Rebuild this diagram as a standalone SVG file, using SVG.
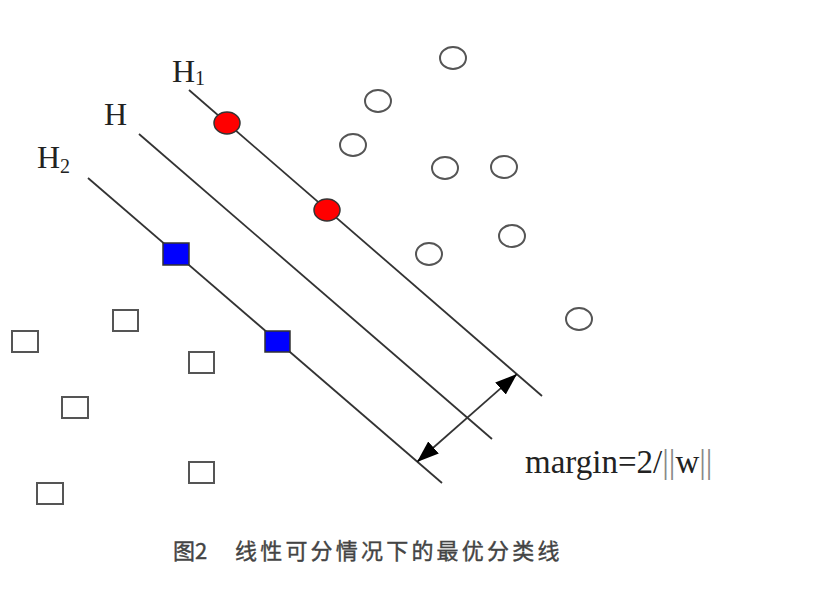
<svg xmlns="http://www.w3.org/2000/svg" width="823" height="612" viewBox="0 0 823 612">
<style>
.ln{stroke:#333;stroke-width:1.8;fill:none}
.oc{fill:#fff;stroke:#555;stroke-width:2}
.rc{fill:#f00;stroke:#333;stroke-width:1.5}
.os{fill:#fff;stroke:#555;stroke-width:2}
.bs{fill:#00f;stroke:#333;stroke-width:1.5}
.lbl{font-family:"Liberation Serif","Times New Roman",serif;fill:#222}
.cap{font-family:"Noto Sans CJK SC","Liberation Sans",sans-serif;fill:#444;font-size:22px;stroke:#444;stroke-width:0.4}
</style>
<defs>
<marker id="ah" viewBox="0 0 22 16" refX="22" refY="8" markerWidth="22" markerHeight="16" markerUnits="userSpaceOnUse" orient="auto-start-reverse">
<path d="M0,0 L22,8 L0,16 z" fill="#000"/>
</marker>
</defs>
<rect width="823" height="612" fill="#fff"/>
<g id="connectors">
<line id="H1line" class="ln" x1="189" y1="90" x2="542" y2="396"/>
<line id="Hline" class="ln" x1="139" y1="134" x2="492" y2="439"/>
<line id="H2line" class="ln" x1="88" y1="178" x2="442" y2="483"/>
<line id="margin-arrow" class="ln" x1="417" y1="462" x2="517" y2="374" marker-start="url(#ah)" marker-end="url(#ah)"/>
</g>
<g id="labels">
<text class="lbl" x="172" y="82" font-size="32">H<tspan font-size="20" dy="3">1</tspan></text>
<text class="lbl" x="104" y="125" font-size="32">H</text>
<text class="lbl" x="37" y="168" font-size="32">H<tspan font-size="20" dy="5">2</tspan></text>
<text class="lbl" x="525" y="473" font-size="33">margin=2/<tspan fill="#888">||</tspan>w<tspan fill="#888">||</tspan></text>
</g>
<g id="circles">
<g id="c1"><ellipse class="oc" cx="453" cy="58" rx="13" ry="11"/></g>
<g id="c2"><ellipse class="oc" cx="378" cy="101" rx="13" ry="11"/></g>
<g id="c3"><ellipse class="oc" cx="353" cy="145" rx="13" ry="11"/></g>
<g id="c4"><ellipse class="oc" cx="445" cy="168" rx="13" ry="11"/></g>
<g id="c5"><ellipse class="oc" cx="504" cy="167" rx="13" ry="11"/></g>
<g id="c6"><ellipse class="oc" cx="512" cy="236" rx="13" ry="11"/></g>
<g id="c7"><ellipse class="oc" cx="429" cy="254" rx="13" ry="11"/></g>
<g id="c8"><ellipse class="oc" cx="579" cy="319" rx="13" ry="11"/></g>
<g id="sv-c1"><ellipse class="rc" cx="227" cy="123" rx="13" ry="11"/></g>
<g id="sv-c2"><ellipse class="rc" cx="327" cy="210" rx="13" ry="11"/></g>
</g>
<g id="squares">
<g id="s1"><rect class="os" x="12" y="331" width="26" height="21"/></g>
<g id="s2"><rect class="os" x="113" y="310" width="25" height="21"/></g>
<g id="s3"><rect class="os" x="189" y="352" width="25" height="21"/></g>
<g id="s4"><rect class="os" x="62" y="397" width="26" height="21"/></g>
<g id="s5"><rect class="os" x="37" y="483" width="26" height="21"/></g>
<g id="s6"><rect class="os" x="189" y="462" width="25" height="21"/></g>
<g id="sv-s1"><rect class="bs" x="163" y="243" width="26" height="22"/></g>
<g id="sv-s2"><rect class="bs" x="265" y="331" width="25" height="21"/></g>
</g>
<g id="caption">
<text class="cap" x="173" y="559">图2</text>
<text class="cap" x="235" y="559" letter-spacing="3.2">线性可分情况下的最优分类线</text>
</g>
</svg>
